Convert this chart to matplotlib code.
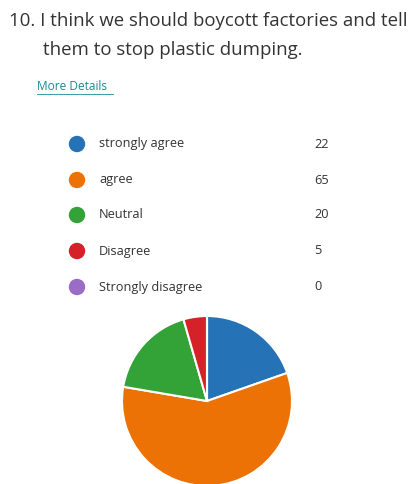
import matplotlib.pyplot as plt
from matplotlib.patches import Circle

title_lines = ["10. I think we should boycott factories and tell",
               "them to stop plastic dumping."]
labels = ["strongly agree", "agree", "Neutral", "Disagree", "Strongly disagree"]
counts = [22, 65, 20, 5, 0]
colors = ["#2572b6", "#ec7206", "#33a338", "#d52128", "#9a6cc6"]

W, H = 411, 484
fig = plt.figure(figsize=(W / 100, H / 100), dpi=100)
fig.patch.set_facecolor("white")
plt.rcParams["font.family"] = ["Open Sans", "DejaVu Sans"]


def fx(px):
    return px / W


def fy(py):
    return 1 - py / H


# title
fig.text(fx(9), fy(21), title_lines[0], fontsize=13.4, color="#333333", va="center", ha="left")
fig.text(fx(43), fy(50), title_lines[1], fontsize=13.4, color="#333333", va="center", ha="left")
fig.text(fx(37), fy(86), "More Details", fontsize=8.6, color="#1a8a94", va="center", ha="left")
fig.add_artist(plt.Line2D([fx(37), fx(113)], [fy(94), fy(94)], color="#1a8a94", lw=0.6))

# legend rows
ax_leg = fig.add_axes([0, 0, 1, 1])
ax_leg.set_xlim(0, W)
ax_leg.set_ylim(H, 0)
ax_leg.axis("off")
row_y = [144, 180, 215, 251, 287]
for y, lab, c, col in zip(row_y, labels, counts, colors):
    ax_leg.add_patch(Circle((77, y), 7.5, color=col))
    ax_leg.text(99, y, lab, fontsize=9.2, color="#333333", va="center", ha="left")
    ax_leg.text(314, y, str(c), fontsize=9.2, color="#333333", va="center", ha="left")

# pie
cx, cy, r = 207, 401, 85
ax = fig.add_axes([fx(cx - r), 1 - (cy + r) / H, 2 * r / W, 2 * r / H])
wedges, _ = ax.pie(counts, colors=colors, startangle=90, counterclock=False,
                   wedgeprops=dict(edgecolor="white", linewidth=1.5))
for w in wedges:
    w.set_clip_on(False)
ax.set_xlim(-1, 1)
ax.set_ylim(-1, 1)
ax.set_aspect("equal")

fig.savefig("out.png", dpi=100)
